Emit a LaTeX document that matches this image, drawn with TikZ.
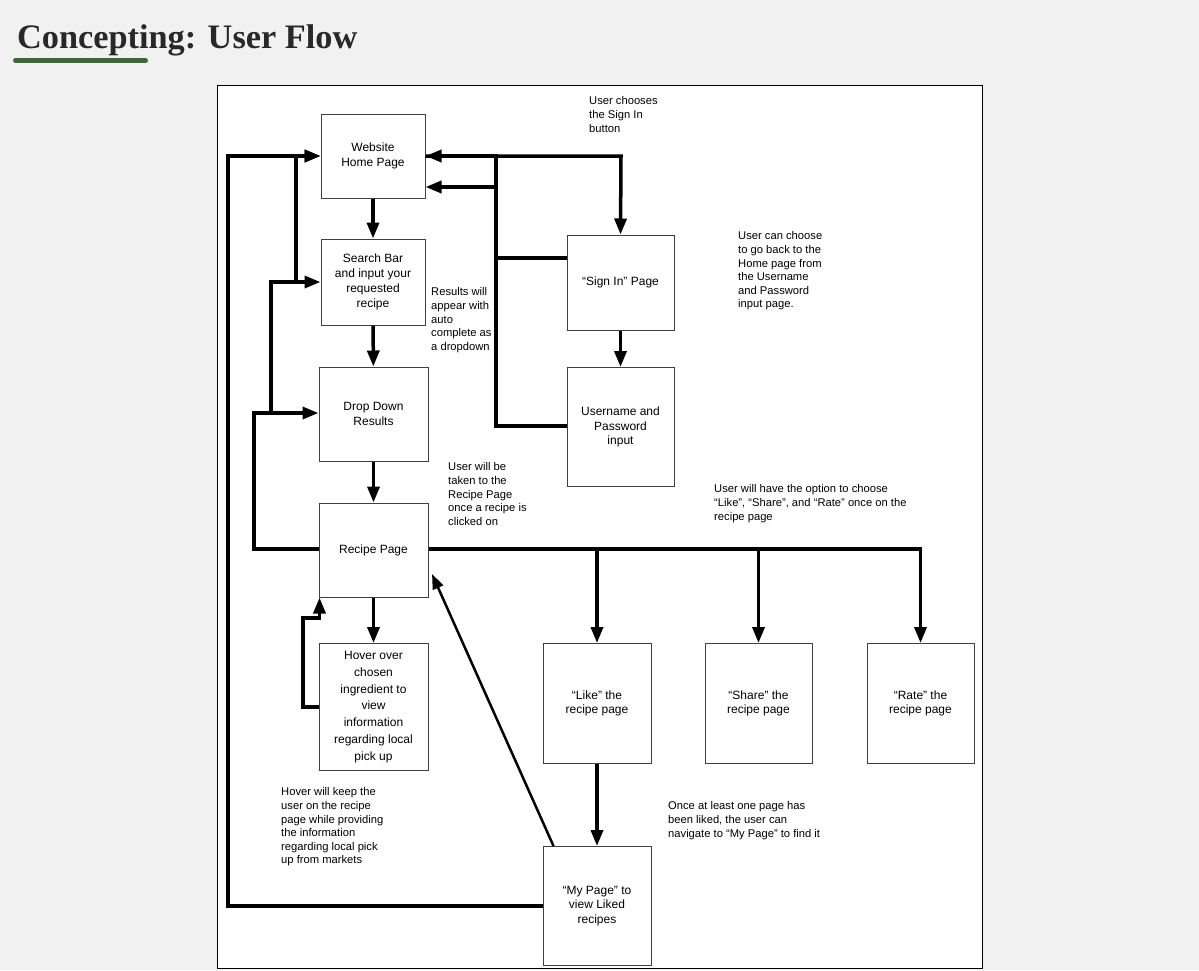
\documentclass[tikz,border=0pt]{standalone}
\usepackage{fontspec}
\setmainfont{Liberation Sans}
\newfontfamily\titlefont{Liberation Serif}
\usetikzlibrary{arrows.meta}
\definecolor{bg}{RGB}{241,241,241}
\definecolor{bar}{RGB}{64,102,58}
\definecolor{ttl}{RGB}{40,40,40}
\tikzset{
  box/.style={draw=black!75, line width=1pt, fill=white, align=center, inner sep=1pt,
    font=\fontsize{12}{15}\selectfont},
  arr/.style={line width=3.5pt, -{Triangle[length=16pt,width=12pt]}},
  thinarr/.style={line width=2.5pt, -{Triangle[length=15pt,width=11pt]}},
  note/.style={anchor=north west, align=left, inner sep=0pt, font=\fontsize{11.2}{13.6}\selectfont}
}
\begin{document}
\begin{tikzpicture}[x=1pt,y=-1pt]
\useasboundingbox (0,0) rectangle (1199,970);
\fill[bg] (0,0) rectangle (1199,970);
% title
\node[anchor=base west, inner sep=0pt, text=ttl, font=\titlefont\bfseries\fontsize{34.3}{40}\selectfont] (title) at (17,48) {Concepting: User Flow};
\draw[bar, line width=5pt, line cap=round] (15.5,60.5) -- (145.5,60.5);
% frame
\draw[black, line width=1pt, fill=white] (217.5,85.5) rectangle (982.5,968.5);
% boxes
\node[box, minimum width=104pt, minimum height=84pt] (home) at (373,156) {Website\\Home Page};
\node[box, minimum width=104pt, minimum height=86pt] (search) at (373,282) {Search Bar\\and input your\\requested\\recipe};
\node[box, minimum width=109pt, minimum height=94pt] (drop) at (373.5,414) {Drop Down\\Results};
\node[box, minimum width=109pt, minimum height=94pt] (recipe) at (373.5,550) {Recipe Page};
\node[box, minimum width=109pt, minimum height=127pt, font=\fontsize{12}{16.8}\selectfont] (hover) at (373.5,707) {Hover over\\chosen\\ingredient to\\view\\information\\regarding local\\pick up};
\node[box, minimum width=107pt, minimum height=95pt] (signin) at (620.5,282.5) {“Sign In” Page};
\node[box, minimum width=107pt, minimum height=119pt, font=\fontsize{12}{14.5}\selectfont] (user) at (620.5,427) {Username and\\Password\\input};
\node[box, minimum width=108pt, minimum height=120pt, font=\fontsize{12}{14.3}\selectfont] (like) at (597,703.5) {“Like” the\\recipe page};
\node[box, minimum width=107pt, minimum height=120pt, font=\fontsize{12}{14.3}\selectfont] (share) at (758.5,703.5) {“Share” the\\recipe page};
\node[box, minimum width=107pt, minimum height=120pt, font=\fontsize{12}{14.3}\selectfont] (rate) at (920.5,703.5) {“Rate” the\\recipe page};
\node[box, minimum width=108pt, minimum height=119pt, font=\fontsize{12}{14.3}\selectfont] (mypage) at (597,906) {“My Page” to\\view Liked\\recipes};
% notes
\node[note] (n1) at (589,96.5) {User chooses\\the Sign In\\button};
\node[note] (n2) at (738,231.5) {User can choose\\to go back to the\\Home page from\\the Username\\and Password\\input page.};
\node[note] (n3) at (431,287.5) {Results will\\appear with\\auto\\complete as\\a dropdown};
\node[note] (n4) at (448,462.5) {User will be\\taken to the\\Recipe Page\\once a recipe is\\clicked on};
\node[note] (n5) at (714,484.5) {User will have the option to choose\\“Like”, “Share”, and “Rate” once on the\\recipe page};
\node[note] (n6) at (281,787.5) {Hover will keep the\\user on the recipe\\page while providing\\the information\\regarding local pick\\up from markets};
\node[note] (n7) at (668,801.5) {Once at least one page has\\been liked, the user can\\navigate to “My Page” to find it};
% junction coordinates
\coordinate (tr) at (621,156);
\coordinate (j1) at (496,156);
\coordinate (j2) at (496,187);
\coordinate (j3) at (496,258);
\coordinate (j4) at (496,426);
\coordinate (r1) at (254,549);
\coordinate (r2) at (254,413);
\coordinate (r3) at (271,413);
\coordinate (r4) at (271,282);
\coordinate (r5) at (296,282);
\coordinate (r6) at (296,156);
\coordinate (m1) at (228,906);
\coordinate (m2) at (228,156);
\coordinate (h1) at (303,707);
\coordinate (h2) at (303,618);
\coordinate (h3) at (319.5,618);
\coordinate (d2) at (432,574);
\coordinate (rr) at (920.5,549);
% main column
\draw[arr] (home) -- (search);
\draw[arr] (search) -- (drop);
\draw[arr] (drop) -- (recipe);
\draw[arr] (recipe) -- (hover);
\draw[arr] (signin) -- (user);
\draw[arr] (like) -- (mypage);
% sign in
\draw[arr] (home.east) -- (tr) -- (signin.north);
\draw[arr] (signin.west |- j3) -- (j3) -- (j1) -- (home.east);
\draw[arr] (user.west |- j4) -- (j4) -- (j2) -- (home.east |- j2);
% left loops
\draw[arr] (recipe.west |- r1) -- (r1) -- (r2) -- (drop.west |- r2);
\draw[arr] (r3) -- (r4) -- (search.west);
\draw[arr] (r5) -- (r6) -- (home.west);
\draw[arr] (mypage.west |- m1) -- (m1) -- (m2) -- (home.west);
% hover back
\draw[arr] (hover.west |- h1) -- (h1) -- (h2) -- (h3) -- (h3 |- recipe.south);
% options
\draw[arr] (recipe.east |- rr) -- (rr) -- (rate.north);
\draw[arr] (like.north |- rr) -- (like.north);
\draw[arr] (share.north |- rr) -- (share.north);
% my page back to recipe
\draw[thinarr] ([xshift=11pt]mypage.north west) -- (d2);
\end{tikzpicture}
\end{document}
